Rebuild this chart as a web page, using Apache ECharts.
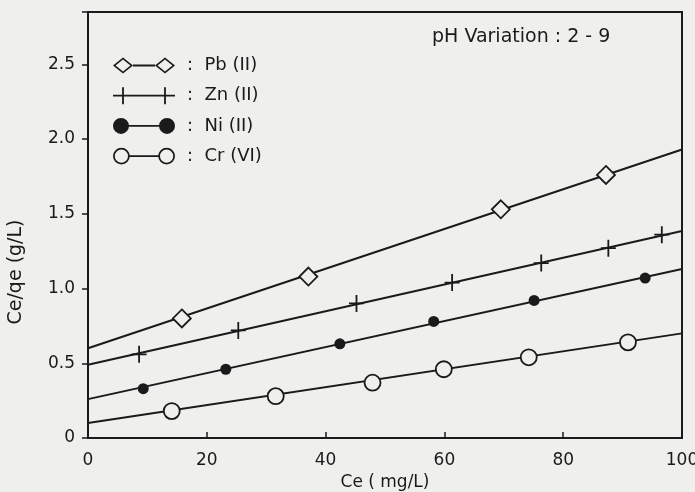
<!DOCTYPE html>
<html>
<head>
<meta charset="utf-8">
<script src="https://cdn.jsdelivr.net/npm/echarts@6/dist/echarts.min.js"></script>
<style>
html,body{margin:0;padding:0;background:#efefed;}
#chart{width:695px;height:492px;}
</style>
</head>
<body>
<div id="chart"></div>
<script>
// ---- data ----
var seriesNames = ['Pb (II)', 'Zn (II)', 'Ni (II)', 'Cr (VI)'];
var xTicks = [0, 20, 40, 60, 80, 100];
var yTicks = [0, 0.5, 1.0, 1.5, 2.0, 2.5];

var pbX = [15.8, 37.1, 69.5, 87.2];
var pbY = [0.80, 1.08, 1.53, 1.76];
var znX = [8.6, 25.3, 45.2, 61.3, 76.3, 87.6, 96.6];
var znY = [0.56, 0.72, 0.90, 1.04, 1.17, 1.27, 1.36];
var niX = [9.3, 23.2, 42.4, 58.2, 75.1, 93.8];
var niY = [0.33, 0.46, 0.63, 0.78, 0.92, 1.07];
var crX = [14.1, 31.6, 47.9, 59.9, 74.2, 90.9];
var crY = [0.18, 0.28, 0.37, 0.46, 0.54, 0.64];

// fitted straight lines (value at Ce = 0 and Ce = 100)
var fitX = [0, 100];
var pbFit = [0.60, 1.93];
var znFit = [0.49, 1.385];
var niFit = [0.26, 1.13];
var crFit = [0.10, 0.70];

var noteText = 'pH Variation : 2 - 9';
var xName = 'Ce ( mg/L)';
var yName = 'Ce/qe (g/L)';

function pairs(xs, ys) { return xs.map(function (x, i) { return [x, ys[i]]; }); }

var INK = '#1a1a1a';
var BG = '#efefed';
var FONT = 'DejaVu Sans';

// legend icons (two markers joined by a line), drawn in a 62 x 17 box
var iconPb = 'path://M0,8.5 L10,0.5 L20,8.5 L10,16.5 Z M2.6,8.5 L10,14.4 L17.4,8.5 L10,2.6 Z ' +
  'M20,7.6 L42,7.6 L42,9.4 L20,9.4 Z ' +
  'M42,8.5 L52,0.5 L62,8.5 L52,16.5 Z M44.6,8.5 L52,14.4 L59.4,8.5 L52,2.6 Z M0,0 Z M62,17 Z';
var iconZn = 'path://M0,7.6 L62,7.6 L62,9.4 L0,9.4 Z M9.1,0 L10.9,0 L10.9,17 L9.1,17 Z M51.1,0 L52.9,0 L52.9,17 L51.1,17 Z';
var iconNi = 'path://M0,8.5 A8,8 0 1,1 16,8.5 A8,8 0 1,1 0,8.5 Z M15,7.6 L47,7.6 L47,9.4 L15,9.4 Z ' +
  'M46,8.5 A8,8 0 1,1 62,8.5 A8,8 0 1,1 46,8.5 Z M0,0 Z M62,17 Z';
var iconCr = 'path://M0,8.5 A8.4,8.4 0 1,1 16.8,8.5 A8.4,8.4 0 1,1 0,8.5 Z M1.8,8.5 A6.6,6.6 0 1,0 15,8.5 A6.6,6.6 0 1,0 1.8,8.5 Z ' +
  'M16,7.6 L46,7.6 L46,9.4 L16,9.4 Z ' +
  'M45.2,8.5 A8.4,8.4 0 1,1 62,8.5 A8.4,8.4 0 1,1 45.2,8.5 Z M47,8.5 A6.6,6.6 0 1,0 60.2,8.5 A6.6,6.6 0 1,0 47,8.5 Z M0,0 Z M62,17 Z';
var plusSymbol = 'path://M6.6,0 L8.4,0 L8.4,7.6 L15,7.6 L15,9.4 L8.4,9.4 L8.4,17 L6.6,17 L6.6,9.4 L0,9.4 L0,7.6 L6.6,7.6 Z';

var chart = echarts.init(document.getElementById('chart'), null, { renderer: 'canvas' });

function fitLine(name, ys) {
  return {
    type: 'line', name: name, data: pairs(fitX, ys), symbol: 'none', silent: true,
    lineStyle: { color: INK, width: 2 }, z: 2, animation: false
  };
}

var legendStyle = { color: INK, borderWidth: 0, borderColor: 'transparent' };

var option = {
  backgroundColor: BG,
  animation: false,
  textStyle: { fontFamily: FONT, color: INK },
  grid: {
    left: 88, right: 13, top: 12, bottom: 54, containLabel: false, outerBoundsMode: 'none',
    show: true, borderColor: INK, borderWidth: 2, backgroundColor: 'transparent'
  },
  title: {
    text: noteText, left: 432, top: 28, padding: 0,
    textStyle: { fontFamily: FONT, fontSize: 19, fontWeight: 'normal', color: INK }
  },
  legend: {
    orient: 'vertical', left: 108, top: 51.5, itemWidth: 62, itemHeight: 17, itemGap: 12.2,
    selectedMode: false,
    formatter: function (n) { return ':  ' + n; },
    textStyle: { fontFamily: FONT, fontSize: 18, color: INK, padding: [0, 0, 0, 7] },
    data: [
      { name: seriesNames[0], icon: iconPb, itemStyle: legendStyle },
      { name: seriesNames[1], icon: iconZn, itemStyle: legendStyle },
      { name: seriesNames[2], icon: iconNi, itemStyle: legendStyle },
      { name: seriesNames[3], icon: iconCr, itemStyle: legendStyle }
    ]
  },
  graphic: [{
    type: 'text', x: 16, y: 272, rotation: Math.PI / 2,
    style: { text: yName, fontFamily: FONT, fontSize: 19, fill: INK, align: 'center', verticalAlign: 'middle' }
  }],
  xAxis: {
    type: 'value', min: xTicks[0], max: xTicks[xTicks.length - 1], interval: 20,
    name: xName, nameLocation: 'middle', nameGap: 35,
    nameTextStyle: { fontFamily: FONT, fontSize: 17, color: INK },
    axisLine: { show: true, lineStyle: { color: INK, width: 2 } },
    axisTick: { show: true, inside: true, length: 6, lineStyle: { color: INK, width: 1.5 } },
    axisLabel: { fontFamily: FONT, fontSize: 17, color: INK, margin: 14, showMaxLabel: true, hideOverlap: false },
    splitLine: { show: false }
  },
  yAxis: {
    type: 'value', min: 0, max: 2.85, interval: 0.5,
    axisLine: { show: true, lineStyle: { color: INK, width: 2 } },
    axisTick: { show: true, inside: false, length: 6, lineStyle: { color: INK, width: 1.5 } },
    axisLabel: {
      fontFamily: FONT, fontSize: 17, color: INK, margin: 13,
      formatter: function (v) {
        for (var i = 0; i < yTicks.length; i++) {
          if (Math.abs(v - yTicks[i]) < 1e-6) return v === 0 ? '0' : yTicks[i].toFixed(1);
        }
        return '';
      }
    },
    splitLine: { show: false }
  },
  series: [
    fitLine('fitPb', pbFit), fitLine('fitZn', znFit), fitLine('fitNi', niFit), fitLine('fitCr', crFit),
    {
      type: 'scatter', name: seriesNames[0], data: pairs(pbX, pbY), symbol: 'diamond', symbolSize: [18, 18],
      itemStyle: { color: BG, borderColor: INK, borderWidth: 1.8, opacity: 1 }, z: 5
    },
    {
      type: 'scatter', name: seriesNames[1], data: pairs(znX, znY), symbol: plusSymbol, symbolSize: [15, 17],
      itemStyle: { color: INK, opacity: 1 }, z: 5
    },
    {
      type: 'scatter', name: seriesNames[2], data: pairs(niX, niY), symbol: 'circle', symbolSize: 11,
      itemStyle: { color: INK, opacity: 1 }, z: 5
    },
    {
      type: 'scatter', name: seriesNames[3], data: pairs(crX, crY), symbol: 'circle', symbolSize: 16,
      itemStyle: { color: BG, borderColor: INK, borderWidth: 1.8, opacity: 1 }, z: 5
    }
  ]
};
chart.setOption(option);
</script>
</body>
</html>
